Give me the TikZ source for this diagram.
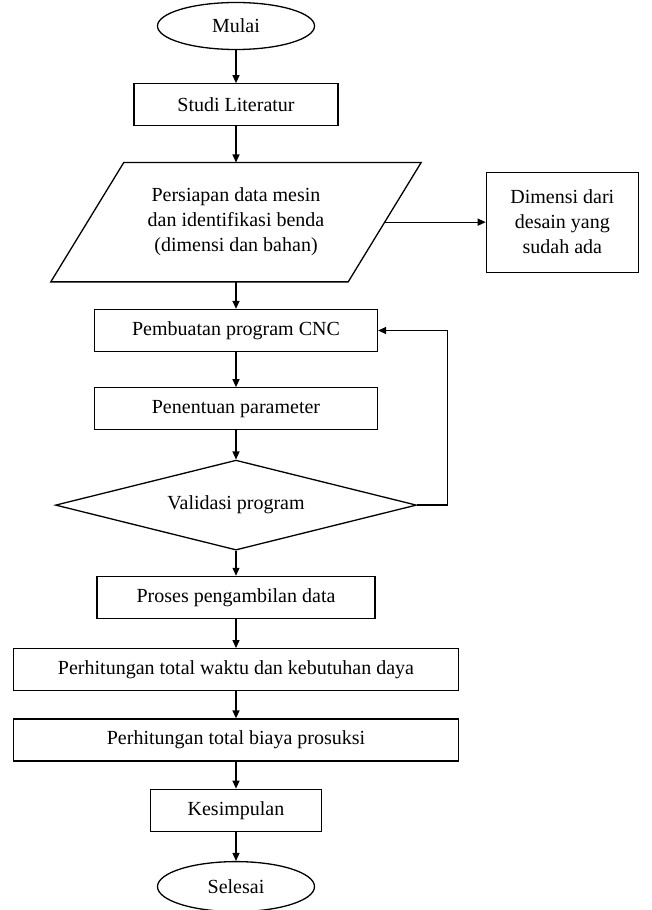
\documentclass[tikz,border=0pt]{standalone}
\usepackage{fontspec}
\setmainfont{Liberation Serif}
\usetikzlibrary{arrows.meta, positioning, shapes.geometric, calc}

\begin{document}
\begin{tikzpicture}[
        node distance=30pt,
        every node/.style={font=\fontsize{20}{25}\selectfont},
        terminal/.style={draw, ellipse, line width=1.3pt, minimum width=157pt,
            minimum height=47pt, inner sep=0pt},
        processbox/.style={draw, rectangle, line width=1.3pt, minimum height=42pt,
            align=center},
        iobox/.style={rectangle, minimum width=297pt, minimum height=119pt, align=center},
        decision/.style={draw, diamond, aspect=4, minimum width=361pt,
            minimum height=90pt, line width=1.3pt, inner sep=0pt},
        arrow/.style={-{Triangle[length=8pt, width=7pt]}, line width=1.3pt},
    ]
        \useasboundingbox (0,0) rectangle (652pt,-910pt);

        % Start
        \node[terminal] (mulai) at (236pt,-26pt) {Mulai};
        \node[processbox, minimum width=204pt, below=33pt of mulai] (studi) {Studi Literatur};

        % Data input
        \node[iobox, below=36pt of studi] (persiapan)
            {Persiapan data mesin\\dan identifikasi benda\\(dimensi dan bahan)};
        \draw[line width=1.3pt] ($(persiapan.north west)+(36.5pt,0)$) -- ($(persiapan.north east)+(36.5pt,0)$)
            -- ($(persiapan.south east)+(-36.5pt,0)$) -- ($(persiapan.south west)+(-36.5pt,0)$) -- cycle;
        \node[processbox, minimum width=152pt, minimum height=100pt,
              right=101pt of persiapan] (dimensi) {Dimensi dari\\desain yang\\sudah ada};

        % Program
        \node[processbox, minimum width=283pt, below=27pt of persiapan] (buat) {Pembuatan program CNC};
        \node[processbox, minimum width=283pt, below=35pt of buat] (tentu) {Penentuan parameter};
        \node[decision, below=29pt of tentu] (validasi) {Validasi program};

        % Calculation
        \node[processbox, minimum width=278pt, below=25pt of validasi] (proses) {Proses pengambilan data};
        \node[processbox, minimum width=445pt, below=29pt of proses] (waktu)
            {Perhitungan total waktu dan kebutuhan daya};
        \node[processbox, minimum width=445pt, below=27pt of waktu] (biaya)
            {Perhitungan total biaya prosuksi};
        \node[processbox, minimum width=171pt, below=27pt of biaya] (simpul) {Kesimpulan};

        % End
        \node[terminal, minimum height=50pt, below=29pt of simpul] (selesai) {Selesai};

        % Arrows
        \draw[arrow] (mulai) -- (studi);
        \draw[arrow] (studi) -- (persiapan);
        \draw[arrow] (persiapan) -- (dimensi);
        \draw[arrow] (persiapan) -- (buat);
        \draw[arrow] (buat) -- (tentu);
        \draw[arrow] (tentu) -- (validasi);
        \draw[arrow] (validasi.east) -- ++(30pt,0) |- (buat.east);
        \draw[arrow] (validasi) -- (proses);
        \draw[arrow] (proses) -- (waktu);
        \draw[arrow] (waktu) -- (biaya);
        \draw[arrow] (biaya) -- (simpul);
        \draw[arrow] (simpul) -- (selesai);

    \end{tikzpicture}
\end{document}
